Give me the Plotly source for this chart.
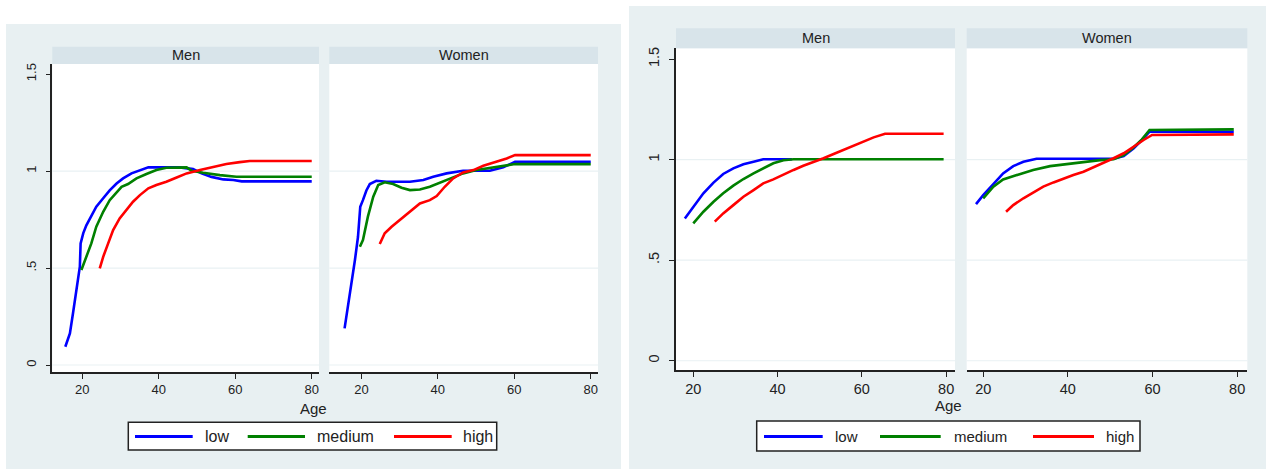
import plotly.graph_objects as go

# ---------------- DATA ----------------
series_names = ["low", "medium", "high"]
series_colors = ["#0000ff", "#008000", "#ff0000"]
panel_titles = ["Men", "Women"]
x_ticks = [20, 40, 60, 80]
y_ticks = [0, 0.5, 1, 1.5]
y_ticktext = ["0", ".5", "1", "1.5"]
axis_title = "Age"

# Left graph (A) - Men
A_men_low_age = [15.6, 16.8, 17.6, 18.5, 19.4, 19.6, 20.3, 21.1, 22.4, 23.7, 25.5, 27.2, 29.0, 30.7, 32.9, 35.1, 37.3, 41.2, 45.5, 49.0, 51.2, 53.8, 56.9, 59.5, 61.7, 80]
A_men_low_val = [0.094, 0.163, 0.266, 0.40, 0.507, 0.627, 0.68, 0.72, 0.77, 0.816, 0.86, 0.90, 0.936, 0.962, 0.988, 1.005, 1.019, 1.019, 1.019, 1.01, 0.988, 0.97, 0.957, 0.954, 0.947, 0.947]
A_men_med_age = [19.8, 21.1, 22.4, 23.7, 25.5, 27.2, 29.0, 30.3, 32.0, 34.2, 36.8, 39.4, 42.0, 47.3, 48.6, 51.6, 56.0, 60.3, 80]
A_men_med_val = [0.49, 0.558, 0.627, 0.713, 0.79, 0.85, 0.893, 0.919, 0.933, 0.962, 0.985, 1.005, 1.017, 1.019, 1.002, 0.991, 0.979, 0.971, 0.971]
A_men_high_age = [24.6, 25.5, 26.8, 28.1, 29.8, 31.6, 33.3, 35.1, 37.3, 39.4, 42.0, 44.7, 47.3, 50.8, 54.2, 57.7, 61.2, 63.8, 80]
A_men_high_val = [0.498, 0.558, 0.627, 0.696, 0.756, 0.799, 0.842, 0.876, 0.911, 0.928, 0.945, 0.967, 0.988, 1.005, 1.022, 1.036, 1.046, 1.052, 1.052]

# Left graph (A) - Women
A_wom_low_age = [15.6, 16.5, 17.4, 18.3, 19.1, 19.7, 20.4, 21.3, 22.2, 23.9, 26.6, 32.7, 36.2, 38.8, 42.3, 46.6, 53.6, 57.1, 60.2, 80]
A_wom_low_val = [0.189, 0.30, 0.42, 0.54, 0.66, 0.816, 0.85, 0.90, 0.933, 0.95, 0.945, 0.945, 0.954, 0.971, 0.988, 1.002, 1.002, 1.019, 1.048, 1.048]
A_wom_med_age = [19.6, 20.4, 21.7, 23.1, 24.4, 26.1, 28.3, 30.5, 32.7, 35.3, 37.9, 40.5, 44.0, 46.6, 50.1, 53.6, 57.1, 60.2, 80]
A_wom_med_val = [0.61, 0.644, 0.765, 0.868, 0.928, 0.942, 0.933, 0.914, 0.902, 0.905, 0.919, 0.94, 0.967, 0.988, 1.005, 1.017, 1.026, 1.036, 1.036]
A_wom_high_age = [24.8, 26.1, 27.9, 30.0, 32.7, 35.3, 37.9, 39.7, 41.8, 44.0, 46.6, 49.3, 51.9, 55.4, 58.0, 60.2, 80]
A_wom_high_val = [0.624, 0.679, 0.713, 0.747, 0.79, 0.833, 0.85, 0.871, 0.919, 0.962, 0.993, 1.005, 1.027, 1.048, 1.065, 1.082, 1.082]

# Right graph (B) - Men
B_men_low_age = [18.0, 20.0, 22.4, 24.8, 27.1, 29.5, 31.9, 34.3, 36.6, 43.4]
B_men_low_val = [0.708, 0.766, 0.833, 0.886, 0.929, 0.957, 0.977, 0.99, 1.002, 1.002]
B_men_med_age = [20.0, 22.4, 24.8, 27.1, 29.5, 31.9, 34.3, 36.6, 39.0, 41.4, 43.8, 79.4]
B_men_med_val = [0.683, 0.741, 0.791, 0.833, 0.871, 0.904, 0.932, 0.957, 0.982, 0.997, 1.002, 1.002]
B_men_high_age = [25.1, 27.1, 29.5, 31.9, 34.3, 36.6, 39.0, 41.4, 43.8, 46.1, 48.5, 50.9, 53.3, 55.6, 58.0, 60.4, 62.8, 65.5, 79.4]
B_men_high_val = [0.692, 0.733, 0.774, 0.816, 0.849, 0.882, 0.902, 0.927, 0.949, 0.97, 0.987, 1.007, 1.028, 1.048, 1.068, 1.09, 1.111, 1.129, 1.129]

# Right graph (B) - Women
B_wom_low_age = [18.3, 20.0, 22.4, 24.7, 27.1, 29.5, 32.6, 50.8, 53.2, 55.5, 57.5, 59.3, 79.2]
B_wom_low_val = [0.779, 0.824, 0.879, 0.932, 0.968, 0.99, 1.005, 1.005, 1.018, 1.056, 1.098, 1.139, 1.139]
B_wom_med_age = [20.0, 22.4, 24.7, 27.9, 31.8, 35.8, 39.7, 43.7, 47.6, 50.8, 53.2, 55.5, 57.5, 59.3, 79.2]
B_wom_med_val = [0.808, 0.866, 0.902, 0.924, 0.949, 0.968, 0.978, 0.99, 0.998, 1.002, 1.023, 1.061, 1.101, 1.148, 1.151]
B_wom_high_age = [25.4, 27.1, 29.5, 31.8, 34.2, 36.6, 38.9, 41.3, 43.7, 46.1, 48.4, 50.8, 53.2, 55.5, 57.9, 59.9, 79.2]
B_wom_high_val = [0.741, 0.774, 0.808, 0.837, 0.866, 0.887, 0.907, 0.924, 0.94, 0.962, 0.985, 1.007, 1.032, 1.065, 1.098, 1.123, 1.126]

# ---------------- LAYOUT HELPERS ----------------
W, H = 1266, 469
FONT = "Liberation Sans, Arial, sans-serif"
BG = "#e8f0f2"
STRIP = "#d8e4ea"
GRID = "#e9f1f3"
TXT = "#222222"


def px(x):
    return x / W


def py(y):
    return 1 - y / H


fig = go.Figure()

panels = [
    ("", [(A_men_low_age, A_men_low_val), (A_men_med_age, A_men_med_val), (A_men_high_age, A_men_high_val)],
     (52.3, 319.0), (64.0, 372.0), [12.2, 81.9], [-0.036, 1.552], 13, True),
    ("2", [(A_wom_low_age, A_wom_low_val), (A_wom_med_age, A_wom_med_val), (A_wom_high_age, A_wom_high_val)],
     (329.3, 598.0), (64.0, 372.0), [11.6, 81.9], [-0.036, 1.552], 13, False),
    ("3", [(B_men_low_age, B_men_low_val), (B_men_med_age, B_men_med_val), (B_men_high_age, B_men_high_val)],
     (676.0, 955.0), (48.3, 370.0), [15.9, 82.1], [-0.046, 1.554], 14.5, True),
    ("4", [(B_wom_low_age, B_wom_low_val), (B_wom_med_age, B_wom_med_val), (B_wom_high_age, B_wom_high_val)],
     (966.7, 1247.3), (48.3, 370.0), [16.1, 82.4], [-0.046, 1.554], 14.5, False),
]

shapes = []
annotations = []

# Graph backgrounds
shapes.append(dict(type="rect", xref="paper", yref="paper", x0=px(6), x1=px(621), y0=py(469), y1=py(24),
                   fillcolor=BG, line_width=0, layer="below"))
shapes.append(dict(type="rect", xref="paper", yref="paper", x0=px(629), x1=px(1266), y0=py(469), y1=py(6),
                   fillcolor=BG, line_width=0, layer="below"))

strip_px = {"": (46.7, 64.0), "2": (46.7, 64.0), "3": (28.3, 48.3), "4": (28.3, 48.3)}

for i, (suf, data, xd, yd, xr, yr, tfs, show_y) in enumerate(panels):
    xa = "x" + suf
    ya = "y" + suf
    shapes.append(dict(type="rect", xref="paper", yref="paper", x0=px(xd[0]), x1=px(xd[1]),
                       y0=py(yd[1]), y1=py(yd[0]), fillcolor="white", line_width=0, layer="below"))
    s0, s1 = strip_px[suf]
    shapes.append(dict(type="rect", xref="paper", yref="paper", x0=px(xd[0]), x1=px(xd[1]),
                       y0=py(s1), y1=py(s0), fillcolor=STRIP, line_width=0, layer="below"))
    annotations.append(dict(text=panel_titles[i % 2], xref="paper", yref="paper",
                            x=px((xd[0] + xd[1]) / 2), y=py((s0 + s1) / 2), showarrow=False,
                            xanchor="center", yanchor="middle",
                            font=dict(family=FONT, size=14.5, color=TXT)))
    for gv in y_ticks[:-1]:
        shapes.append(dict(type="line", xref=xa + " domain", yref=ya, x0=0, x1=1, y0=gv, y1=gv,
                           line=dict(color=GRID, width=1.2), layer="below"))
    for (ages, vals), name, col in zip(data, series_names, series_colors):
        fig.add_trace(go.Scatter(x=ages, y=vals, mode="lines", name=name, showlegend=False,
                                 line=dict(color=col, width=2.6), xaxis=xa, yaxis=ya,
                                 hoverinfo="skip"))
    fig.layout["xaxis" + suf] = dict(domain=[px(xd[0]), px(xd[1])], range=xr, anchor=ya,
                                     tickvals=x_ticks, ticks="outside", ticklen=5, tickwidth=1.2,
                                     tickcolor="#222", showline=True, linecolor="#222", linewidth=1.5,
                                     showgrid=False, zeroline=False,
                                     tickfont=dict(family=FONT, size=tfs, color=TXT))
    fig.layout["yaxis" + suf] = dict(domain=[py(yd[1]), py(yd[0])], range=yr, anchor=xa,
                                     tickvals=y_ticks, ticktext=y_ticktext, tickangle=-90,
                                     ticks="outside" if show_y else "", ticklen=5, tickwidth=1.2,
                                     tickcolor="#222", showline=show_y, linecolor="#222", linewidth=1.5,
                                     showticklabels=show_y, showgrid=False, zeroline=False,
                                     ticklabelstandoff=4,
                                     tickfont=dict(family=FONT, size=tfs, color=TXT))

annotations.append(dict(text=axis_title, xref="paper", yref="paper", x=px(313.3), y=py(408.3),
                        showarrow=False, xanchor="center", yanchor="middle",
                        font=dict(family=FONT, size=15, color=TXT)))
annotations.append(dict(text=axis_title, xref="paper", yref="paper", x=px(948.3), y=py(405),
                        showarrow=False, xanchor="center", yanchor="middle",
                        font=dict(family=FONT, size=15, color=TXT)))

legend_specs = [
    dict(box=(128.3, 496.7, 422.3, 450.0), ly=436.5,
         lines=[(135, 192.7), (247.7, 305), (394, 451.7)], texts=[202.7, 315, 460.7], fs=16),
    dict(box=(756.7, 1140, 421, 451), ly=436.5,
         lines=[(764, 822.7), (880, 940.7), (1033, 1094)], texts=[833, 951.7, 1104.3], fs=15),
]
for spec in legend_specs:
    bx0, bx1, by0, by1 = spec["box"]
    shapes.append(dict(type="rect", xref="paper", yref="paper", x0=px(bx0), x1=px(bx1),
                       y0=py(by1), y1=py(by0), fillcolor="white", line=dict(color="#222", width=1.5)))
    for (lx0, lx1), tx, name, col in zip(spec["lines"], spec["texts"], series_names, series_colors):
        shapes.append(dict(type="line", xref="paper", yref="paper", x0=px(lx0), x1=px(lx1),
                           y0=py(spec["ly"]), y1=py(spec["ly"]), line=dict(color=col, width=3)))
        annotations.append(dict(text=name, xref="paper", yref="paper", x=px(tx), y=py(spec["ly"]),
                                showarrow=False, xanchor="left", yanchor="middle",
                                font=dict(family=FONT, size=spec["fs"], color=TXT)))

fig.update_layout(width=W, height=H, margin=dict(l=0, r=0, t=0, b=0),
                  paper_bgcolor="white", plot_bgcolor="rgba(0,0,0,0)",
                  shapes=shapes, annotations=annotations, showlegend=False,
                  font=dict(family=FONT, color=TXT))

fig.write_html("out.html")
